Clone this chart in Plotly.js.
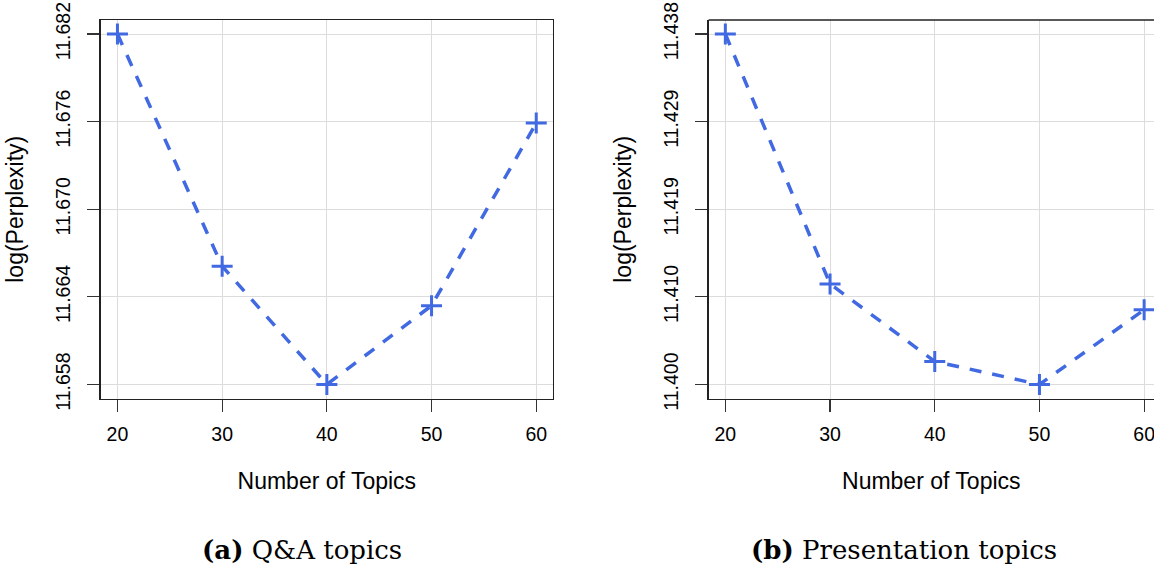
<!DOCTYPE html>
<html>
<head>
<meta charset="utf-8">
<script src="https://cdn.plot.ly/plotly-3.0.1.min.js"></script>
<style>html,body{margin:0;padding:0;background:#fff;}#chart{width:1154px;height:575px;}</style>
</head>
<body>
<div id="chart"></div>
<script>
// Data
const topics = [20, 30, 40, 50, 60];
const qaPerplexity = [11.682, 11.6661, 11.658, 11.6634, 11.6759];
const presPerplexity = [11.438, 11.4109, 11.4025, 11.400, 11.4081];
const qaTickVals = [11.658, 11.664, 11.670, 11.676, 11.682];
const qaTickText = ["11.658", "11.664", "11.670", "11.676", "11.682"];
const presTickVals = [11.400, 11.4095, 11.419, 11.4285, 11.438];
const presTickText = ["11.400", "11.410", "11.419", "11.429", "11.438"];
const xTickVals = [20, 30, 40, 50, 60];
const xTickText = ["20", "30", "40", "50", "60"];
const xTitle = "Number of Topics";
const yTitle = "log(Perplexity)";
const captionA = "<b>(a)</b> Q&amp;A topics";
const captionB = "<b>(b)</b> Presentation topics";

const W = 1154, H = 575;
const blue = "#4169E1";
const sansFont = "'Liberation Sans', Arial, Helvetica, sans-serif";

function trace(y, xa, ya) {
  return {
    x: topics, y: y, xaxis: xa, yaxis: ya, type: "scatter", mode: "lines+markers",
    line: {color: blue, width: 3.5, dash: "12px,11px"},
    marker: {symbol: "cross-thin-open", size: 15, color: blue, line: {color: blue, width: 3}},
    cliponaxis: false, hoverinfo: "x+y", showlegend: false
  };
}

function pad(lo, hi) { const d = (hi - lo) * 0.04; return [lo - d, hi + d]; }
const qaRange = pad(Math.min(...qaPerplexity), Math.max(...qaPerplexity));
const presRange = pad(Math.min(...presPerplexity), Math.max(...presPerplexity));
const xFull = pad(20, 60);

// panel geometry (pixels)
const boxTop = 20, boxBottom = 398.5;
const leftL = 100.7, leftR = 553;
const rightL = 708.6;
const pxPerUnit = (leftR - leftL) / (xFull[1] - xFull[0]);
const xRight2 = xFull[0] + (W - rightL) / pxPerUnit;

const ydom = [1 - boxBottom / H, 1 - boxTop / H];

const tickFont = {family: sansFont, size: 19.5, color: "#000"};
const titleFont = {family: sansFont, size: 23, color: "#000"};

function xaxis(domain, range, mirror) {
  return {
    domain: domain, range: range, tickvals: xTickVals, ticktext: xTickText,
    ticks: "outside", ticklen: 12, tickwidth: 1.2, tickcolor: "#333",
    showline: true, linecolor: "#222", linewidth: 1.3, mirror: mirror,
    showgrid: true, gridcolor: "#dcdcdc", gridwidth: 1, zeroline: false,
    tickfont: tickFont, ticklabelstandoff: 6, ticklabeloverflow: "allow",
    title: {text: xTitle, font: titleFont, standoff: 28}
  };
}
function yaxis(anchor, range, vals, text, mirror) {
  return {
    domain: ydom, anchor: anchor, range: range, tickvals: vals, ticktext: text,
    tickangle: -90,
    ticks: "outside", ticklen: 12, tickwidth: 1.2, tickcolor: "#333",
    showline: true, linecolor: "#222", linewidth: 1.3, mirror: mirror,
    showgrid: true, gridcolor: "#dcdcdc", gridwidth: 1, zeroline: false,
    tickfont: tickFont, ticklabelstandoff: 10, ticklabeloverflow: "allow",
    title: {text: yTitle, font: titleFont, standoff: 21}
  };
}

const layout = {
  width: W, height: H,
  margin: {l: 0, r: 0, t: 0, b: 0, pad: 0},
  paper_bgcolor: "#fff", plot_bgcolor: "#fff",
  xaxis: Object.assign(xaxis([leftL / W, leftR / W], xFull, true), {anchor: "y"}),
  yaxis: yaxis("x", qaRange, qaTickVals, qaTickText, true),
  xaxis2: Object.assign(xaxis([rightL / W, 1], [xFull[0], xRight2], false), {anchor: "y2"}),
  yaxis2: yaxis("x2", presRange, presTickVals, presTickText, false),
  shapes: [
    {type: "line", xref: "paper", yref: "paper", x0: rightL / W, x1: 1, y0: ydom[1], y1: ydom[1],
     line: {color: "#222", width: 1.3}}
  ],
  annotations: [
    {text: captionA, xref: "paper", yref: "paper", x: 302 / W, y: 1 - 550 / H,
     xanchor: "center", yanchor: "middle", showarrow: false,
     font: {family: "'DejaVu Serif', serif", size: 26, color: "#000"}},
    {text: captionB, xref: "paper", yref: "paper", x: 904 / W, y: 1 - 550 / H,
     xanchor: "center", yanchor: "middle", showarrow: false,
     font: {family: "'DejaVu Serif', serif", size: 26, color: "#000"}}
  ]
};

Plotly.newPlot("chart", [trace(qaPerplexity, "x", "y"), trace(presPerplexity, "x2", "y2")], layout,
  {displayModeBar: false, staticPlot: true});
</script>
</body>
</html>
